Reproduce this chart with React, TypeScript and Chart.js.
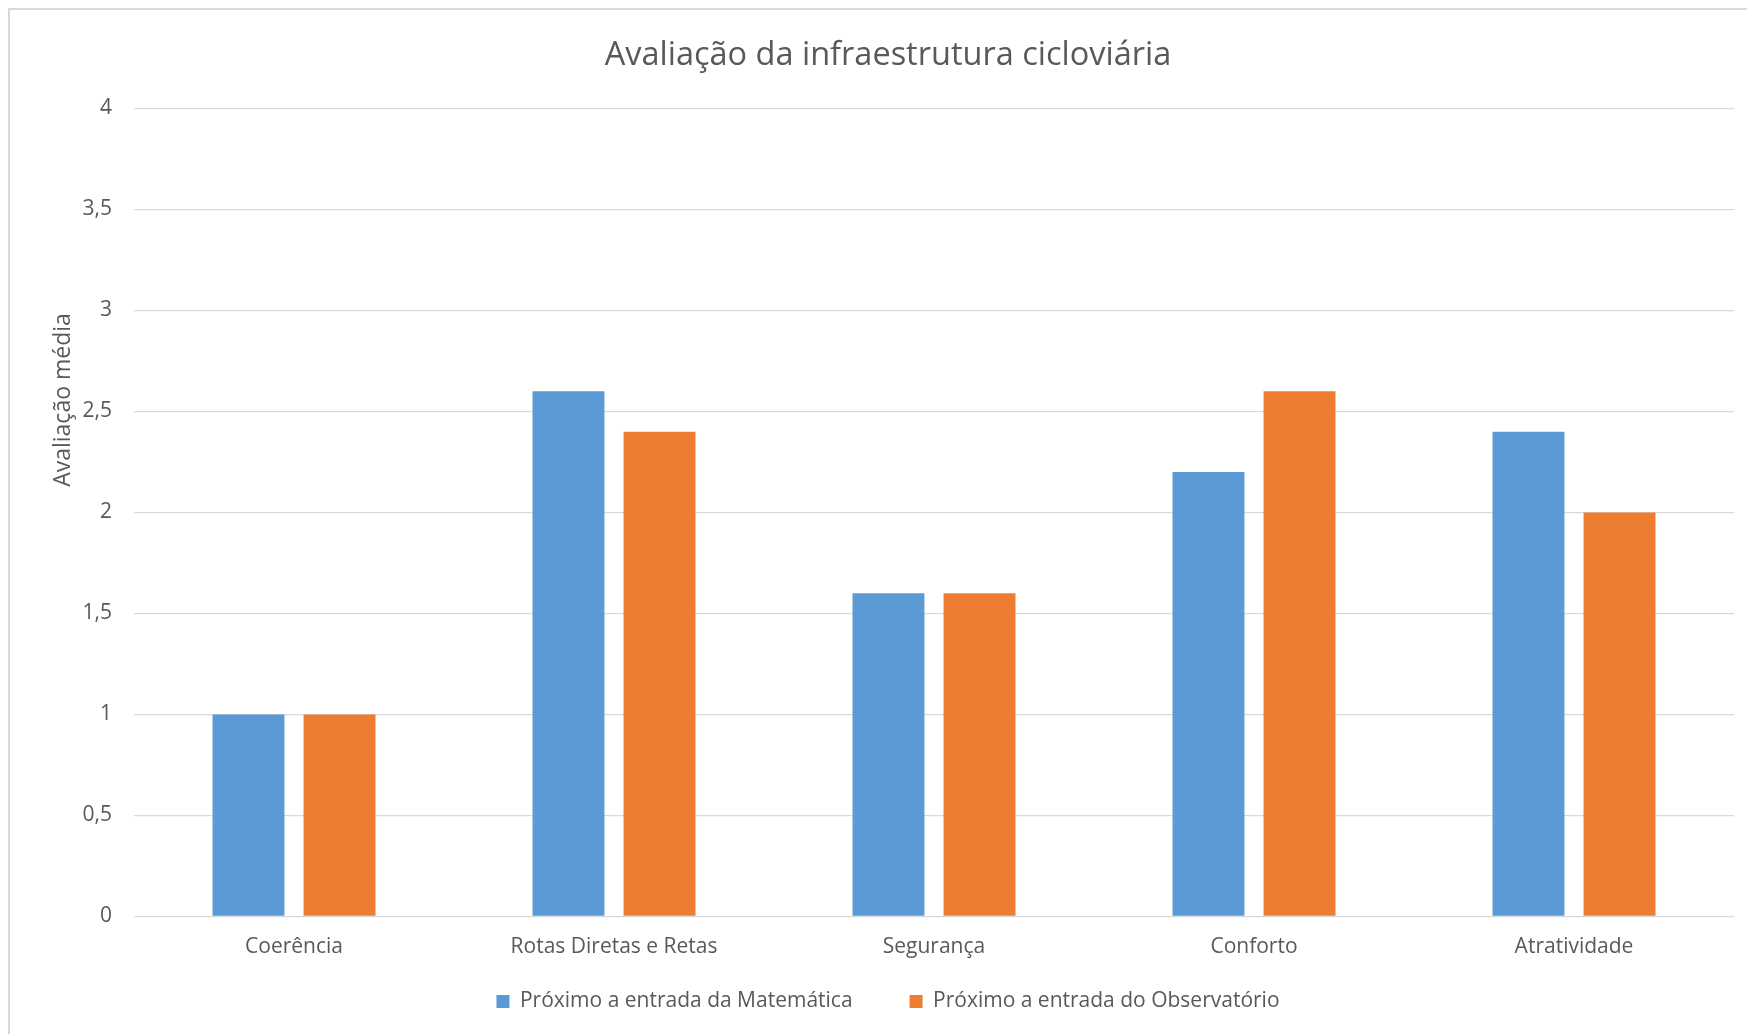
import React, { useEffect, useRef } from "react";
import { Chart, registerables } from "chart.js";

Chart.register(...registerables);

const chartTitle = "Avaliação da infraestrutura cicloviária";
const yAxisTitle = "Avaliação média";
const categories = ["Coerência", "Rotas Diretas e Retas", "Segurança", "Conforto", "Atratividade"];
const seriesNames = ["Próximo a entrada da Matemática", "Próximo a entrada do Observatório"];
const matematica = [1, 2.6, 1.6, 2.2, 2.4];
const observatorio = [1, 2.4, 1.6, 2.6, 2.0];
const yMin = 0;
const yMax = 4;
const yStep = 0.5;

const TEXT = "#595959";
const GRID = "#d9d9d9";
const FONT = "'Open Sans', sans-serif";

export default function App() {
  const ref = useRef<HTMLCanvasElement | null>(null);

  useEffect(() => {
    if (!ref.current) return;
    const yTitlePlugin = {
      id: "yTitlePlugin",
      afterDraw(chart: any) {
        const ctx = chart.ctx;
        ctx.save();
        ctx.translate(53, 390);
        ctx.rotate(-Math.PI / 2);
        ctx.font = `23px ${FONT}`;
        ctx.fillStyle = TEXT;
        ctx.textAlign = "center";
        ctx.textBaseline = "middle";
        ctx.fillText(yAxisTitle, 0, 0);
        ctx.restore();
      },
    };
    const legendShiftPlugin = {
      id: "legendShiftPlugin",
      afterLayout(chart: any) {
        const lg = chart.legend;
        if (!lg) return;
        const target = chart.chartArea.bottom + 17.5;
        const d = lg.top - target;
        lg.top -= d;
        lg.bottom -= d;
      },
    };
    const chart = new Chart(ref.current, {
      type: "bar",
      data: {
        labels: categories,
        datasets: [
          {
            label: seriesNames[0],
            data: matematica,
            backgroundColor: "#5B9BD5",
            categoryPercentage: 0.569,
            barPercentage: 0.79,
          },
          {
            label: seriesNames[1],
            data: observatorio,
            backgroundColor: "#ED7D31",
            categoryPercentage: 0.569,
            barPercentage: 0.79,
          },
        ],
      },
      options: {
        animation: false,
        responsive: false,
        maintainAspectRatio: false,
        layout: { padding: { left: 0, right: 0, top: 0, bottom: 21.5 } },
        plugins: {
          title: {
            display: true,
            text: chartTitle,
            color: TEXT,
            font: { family: FONT, size: 32.5, weight: "normal" as any },
            padding: { top: 26, bottom: 33.5 },
          },
          legend: {
            position: "bottom",
            labels: {
              color: TEXT,
              font: { family: FONT, size: 21 },
              boxWidth: 13,
              boxHeight: 13,
              padding: 57,
            },
          },
          tooltip: { enabled: false },
        },
        scales: {
          x: {
            grid: { display: false, drawTicks: false },
            border: { display: false },
            ticks: { color: TEXT, font: { family: FONT, size: 21 }, padding: 18, maxRotation: 0 },
            afterFit(scale: any) {
              scale.height = 50;
              scale.paddingRight = 32;
            },
          },
          y: {
            min: yMin,
            max: yMax,
            grid: { color: GRID, lineWidth: 1.3, drawTicks: false },
            border: { display: false },
            ticks: {
              stepSize: yStep,
              color: TEXT,
              font: { family: FONT, size: 21 },
              padding: 22,
              callback: (v: any) => String(v).replace(".", ","),
            },
            afterFit(scale: any) {
              scale.width = 124;
            },
          },
        },
      },
      plugins: [yTitlePlugin, legendShiftPlugin],
    });
    return () => chart.destroy();
  }, []);

  return (
    <div style={{ position: "fixed", left: 0, top: 0, width: "100vw", height: "100vh", overflow: "hidden", background: "#fff" }}>
      <div
        style={{
          position: "absolute",
          left: 8,
          top: 8,
          width: 1760,
          height: 1070,
          border: `2px solid ${GRID}`,
          boxSizing: "border-box",
          background: "#fff",
        }}
      >
        <canvas ref={ref} width={1756} height={1066} style={{ display: "block", width: 1756, height: 1066 }} />
      </div>
    </div>
  );
}
